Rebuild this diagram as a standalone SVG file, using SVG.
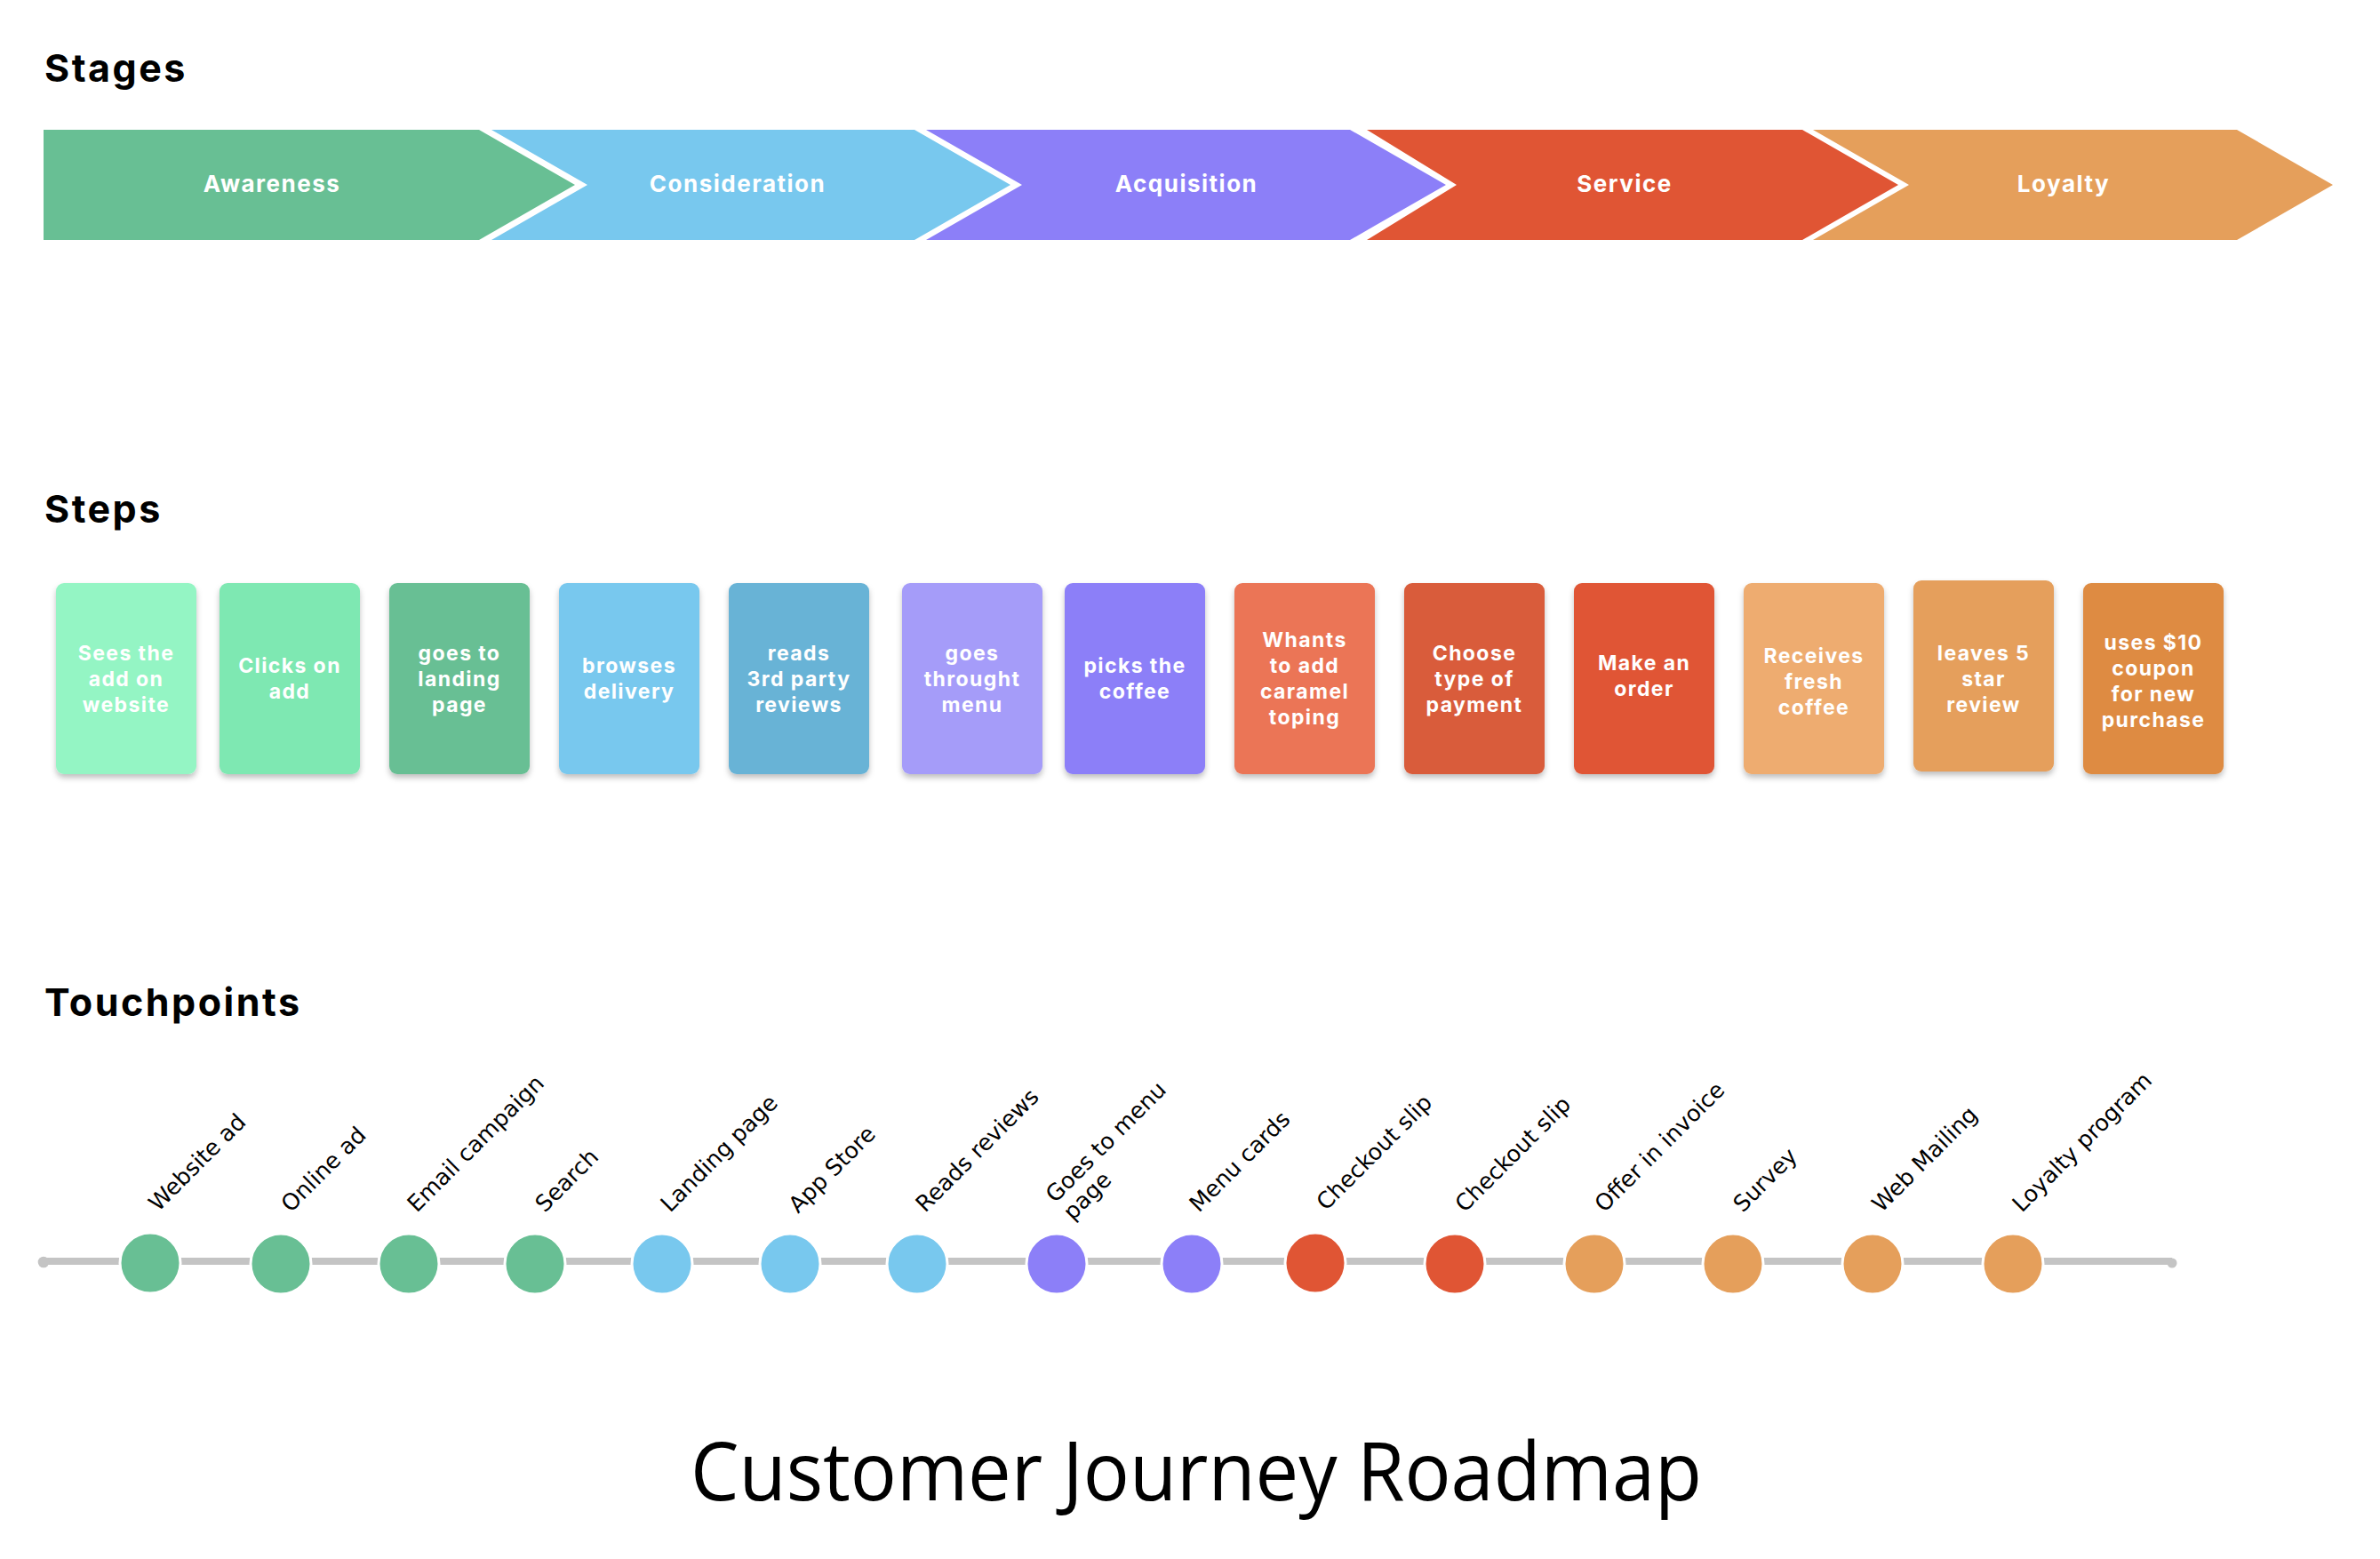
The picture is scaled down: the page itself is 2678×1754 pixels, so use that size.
<svg xmlns="http://www.w3.org/2000/svg" width="2678" height="1754" viewBox="0 0 2678 1754">
<style>
.h{font-family:Inter,"Noto Sans",sans-serif;font-weight:700;font-size:43px;letter-spacing:2.5px;fill:#000}
.sl{font-family:Inter,"Noto Sans",sans-serif;font-weight:700;font-size:26px;letter-spacing:1.5px;fill:#fff;text-anchor:middle}
.ct{font-family:Inter,"Noto Sans",sans-serif;font-weight:700;font-size:23px;letter-spacing:1.4px;fill:#fff;text-anchor:middle}
.tl{font-family:"DejaVu Sans",sans-serif;font-size:25.5px;fill:#000}
.title{font-family:"Open Sans","Noto Sans",sans-serif;font-weight:400;font-size:91px;fill:#000;text-anchor:middle}
.card{filter:url(#sh)}
.tp{stroke:#fff;stroke-width:3}
.g{fill:#68BF94}.b{fill:#78C8EE}.p{fill:#8C7FF8}.r{fill:#E05534}.o{fill:#E59F5B}
</style>
<defs>
<filter id="sh" x="-20%" y="-20%" width="140%" height="140%">
<feDropShadow dx="0" dy="4" stdDeviation="3" flood-color="#000" flood-opacity="0.25"/>
</filter>
</defs>
<rect width="2678" height="1754" fill="#fff"/>

<text class="h" x="50" y="92">Stages</text>
<text class="h" x="50" y="588">Steps</text>
<text class="h" x="50" y="1143">Touchpoints</text>

<g id="stage-awareness">
<polygon class="g" points="49,146 539,146 647,208 539,270 49,270"/>
<text class="sl" x="306" y="216">Awareness</text>
</g>
<g id="stage-consideration">
<polygon class="b" points="553,146 1029,146 1137,208 1029,270 553,270 661,208"/>
<text class="sl" x="830" y="216">Consideration</text>
</g>
<g id="stage-acquisition">
<polygon class="p" points="1042,146 1519,146 1627,208 1519,270 1042,270 1150,208"/>
<text class="sl" x="1335" y="216">Acquisition</text>
</g>
<g id="stage-service">
<polygon class="r" points="1538,146 2028,146 2136,208 2028,270 1538,270 1639,208"/>
<text class="sl" x="1828" y="216">Service</text>
</g>
<g id="stage-loyalty">
<polygon class="o" points="2040,146 2517,146 2625,208 2517,270 2040,270 2148,208"/>
<text class="sl" x="2322" y="216">Loyalty</text>
</g>

<g id="step-1"><rect class="card" x="63" y="656" width="158" height="215" rx="9" fill="#94F5C4"/>
<text class="ct" x="142" y="743">Sees the</text><text class="ct" x="142" y="772">add on</text><text class="ct" x="142" y="801">website</text></g>
<g id="step-2"><rect class="card" x="247" y="656" width="158" height="215" rx="9" fill="#7EE8B2"/>
<text class="ct" x="326" y="757">Clicks on</text><text class="ct" x="326" y="786">add</text></g>
<g id="step-3"><rect class="card" x="438" y="656" width="158" height="215" rx="9" fill="#68BF94"/>
<text class="ct" x="517" y="743">goes to</text><text class="ct" x="517" y="772">landing</text><text class="ct" x="517" y="801">page</text></g>
<g id="step-4"><rect class="card" x="629" y="656" width="158" height="215" rx="9" fill="#78C8EE"/>
<text class="ct" x="708" y="757">browses</text><text class="ct" x="708" y="786">delivery</text></g>
<g id="step-5"><rect class="card" x="820" y="656" width="158" height="215" rx="9" fill="#68B3D6"/>
<text class="ct" x="899" y="743">reads</text><text class="ct" x="899" y="772">3rd party</text><text class="ct" x="899" y="801">reviews</text></g>
<g id="step-6"><rect class="card" x="1015" y="656" width="158" height="215" rx="9" fill="#A59CF9"/>
<text class="ct" x="1094" y="743">goes</text><text class="ct" x="1094" y="772">throught</text><text class="ct" x="1094" y="801">menu</text></g>
<g id="step-7"><rect class="card" x="1198" y="656" width="158" height="215" rx="9" fill="#8C7FF8"/>
<text class="ct" x="1277" y="757">picks the</text><text class="ct" x="1277" y="786">coffee</text></g>
<g id="step-8"><rect class="card" x="1389" y="656" width="158" height="215" rx="9" fill="#EB7456"/>
<text class="ct" x="1468" y="728">Whants</text><text class="ct" x="1468" y="757">to add</text><text class="ct" x="1468" y="786">caramel</text><text class="ct" x="1468" y="815">toping</text></g>
<g id="step-9"><rect class="card" x="1580" y="656" width="158" height="215" rx="9" fill="#D95B3A"/>
<text class="ct" x="1659" y="743">Choose</text><text class="ct" x="1659" y="772">type of</text><text class="ct" x="1659" y="801">payment</text></g>
<g id="step-10"><rect class="card" x="1771" y="656" width="158" height="215" rx="9" fill="#E05534"/>
<text class="ct" x="1850" y="754">Make an</text><text class="ct" x="1850" y="783">order</text></g>
<g id="step-11"><rect class="card" x="1962" y="656" width="158" height="215" rx="9" fill="#EEAC6F"/>
<text class="ct" x="2041" y="746">Receives</text><text class="ct" x="2041" y="775">fresh</text><text class="ct" x="2041" y="804">coffee</text></g>
<g id="step-12"><rect class="card" x="2153" y="653" width="158" height="215" rx="9" fill="#E59F5B"/>
<text class="ct" x="2232" y="743">leaves 5</text><text class="ct" x="2232" y="772">star</text><text class="ct" x="2232" y="801">review</text></g>
<g id="step-13"><rect class="card" x="2344" y="656" width="158" height="215" rx="9" fill="#DE8B43"/>
<text class="ct" x="2423" y="731">uses $10</text><text class="ct" x="2423" y="760">coupon</text><text class="ct" x="2423" y="789">for new</text><text class="ct" x="2423" y="818">purchase</text></g>

<g id="connectors">
<line x1="49" y1="1419" x2="2444" y2="1419" stroke="#C4C4C4" stroke-width="8"/>
<circle cx="49" cy="1420" r="6.3" fill="#C4C4C4"/>
<circle cx="2444" cy="1421" r="5.5" fill="#C4C4C4"/>
</g>

<g id="tp-1"><circle class="tp g" cx="169" cy="1421" r="34"/><text class="tl" transform="translate(178,1364) rotate(-45)">Website ad</text></g>
<g id="tp-2"><circle class="tp g" cx="316" cy="1422" r="34"/><text class="tl" transform="translate(327,1365) rotate(-45)">Online ad</text></g>
<g id="tp-3"><circle class="tp g" cx="460" cy="1422" r="34"/><text class="tl" transform="translate(469,1365) rotate(-45)">Email campaign</text></g>
<g id="tp-4"><circle class="tp g" cx="602" cy="1422" r="34"/><text class="tl" transform="translate(613,1365) rotate(-45)">Search</text></g>
<g id="tp-5"><circle class="tp b" cx="745" cy="1422" r="34"/><text class="tl" transform="translate(754,1365) rotate(-45)">Landing page</text></g>
<g id="tp-6"><circle class="tp b" cx="889" cy="1422" r="34"/><text class="tl" transform="translate(898,1366) rotate(-45)">App Store</text></g>
<g id="tp-7"><circle class="tp b" cx="1032" cy="1422" r="34"/><text class="tl" transform="translate(1041,1365) rotate(-45)">Reads reviews</text></g>
<g id="tp-8"><circle class="tp p" cx="1189" cy="1422" r="34"/><text class="tl" transform="translate(1207,1374) rotate(-45)"><tspan x="0" y="-28">Goes to menu</tspan><tspan x="0" y="0">page</tspan></text></g>
<g id="tp-9"><circle class="tp p" cx="1341" cy="1422" r="34"/><text class="tl" transform="translate(1349,1365) rotate(-45)">Menu cards</text></g>
<g id="tp-10"><circle class="tp r" cx="1480" cy="1421" r="34"/><text class="tl" transform="translate(1492,1363) rotate(-45)">Checkout slip</text></g>
<g id="tp-11"><circle class="tp r" cx="1637" cy="1422" r="34"/><text class="tl" transform="translate(1648,1365) rotate(-45)">Checkout slip</text></g>
<g id="tp-12"><circle class="tp o" cx="1794" cy="1422" r="34"/><text class="tl" transform="translate(1805,1365) rotate(-45)">Offer in invoice</text></g>
<g id="tp-13"><circle class="tp o" cx="1950" cy="1422" r="34"/><text class="tl" transform="translate(1961,1365) rotate(-45)">Survey</text></g>
<g id="tp-14"><circle class="tp o" cx="2107" cy="1422" r="34"/><text class="tl" transform="translate(2117,1365) rotate(-45)">Web Mailing</text></g>
<g id="tp-15"><circle class="tp o" cx="2265" cy="1422" r="34"/><text class="tl" transform="translate(2275,1365) rotate(-45)">Loyalty program</text></g>

<text class="title" x="1346" y="1688" textLength="1138" lengthAdjust="spacingAndGlyphs">Customer Journey Roadmap</text>
</svg>
